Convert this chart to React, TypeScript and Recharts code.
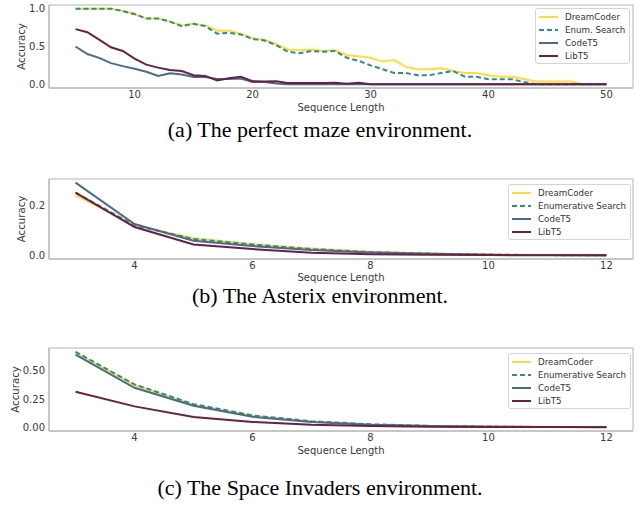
import { LineChart, Line, XAxis, YAxis, ReferenceArea, Legend, Label } from "recharts";

// perfect maze
const mazeLengths = [5, 6, 7, 8, 9, 10, 11, 12, 13, 14, 15, 16, 17, 18, 19, 20, 21, 22, 23, 24, 25, 26, 27, 28, 29, 30, 31, 32, 33, 34, 35, 36, 37, 38, 39, 40, 41, 42, 43, 44, 45, 46, 47, 48, 49, 50];
const mazeDreamCoder = [1.0, 1.0, 1.0, 1.0, 0.97, 0.93, 0.87, 0.87, 0.83, 0.78, 0.8, 0.78, 0.71, 0.71, 0.67, 0.61, 0.59, 0.53, 0.46, 0.45, 0.46, 0.44, 0.45, 0.385, 0.37, 0.35, 0.3, 0.32, 0.23, 0.2, 0.2, 0.21, 0.175, 0.15, 0.15, 0.12, 0.1, 0.1, 0.07, 0.035, 0.035, 0.035, 0.035, 0, 0, 0];
const mazeEnum = [1.0, 1.0, 1.0, 1.0, 0.97, 0.93, 0.87, 0.87, 0.83, 0.77, 0.8, 0.77, 0.67, 0.68, 0.66, 0.6, 0.58, 0.52, 0.43, 0.41, 0.44, 0.43, 0.44, 0.35, 0.31, 0.25, 0.2, 0.15, 0.15, 0.12, 0.12, 0.15, 0.175, 0.1, 0.1, 0.065, 0.065, 0.065, 0.03, 0, 0, 0, 0, 0, 0, 0];
const mazeCodeT5 = [0.5, 0.4, 0.35, 0.28, 0.24, 0.205, 0.165, 0.11, 0.145, 0.13, 0.095, 0.095, 0.07, 0.07, 0.075, 0.03, 0.03, 0.01, 0, 0, 0, 0, 0, 0, 0, 0, 0, 0, 0, 0, 0, 0, 0, 0, 0, 0, 0, 0, 0, 0, 0, 0, 0, 0, 0, 0];
const mazeLibT5 = [0.73, 0.69, 0.59, 0.49, 0.44, 0.34, 0.26, 0.22, 0.19, 0.175, 0.12, 0.11, 0.05, 0.08, 0.1, 0.04, 0.035, 0.04, 0.015, 0.015, 0.015, 0.015, 0.02, 0.005, 0.02, 0, 0, 0, 0, 0, 0, 0, 0, 0, 0, 0, 0, 0, 0, 0, 0, 0, 0, 0, 0, 0];

// asterix
const atariLengths = [3, 4, 5, 6, 7, 8, 9, 10, 11, 12];
const asterixDreamCoder = [0.24, 0.12, 0.068, 0.045, 0.027, 0.014, 0.007, 0.003, 0.001, 0.0005];
const asterixEnum = [0.25, 0.12, 0.065, 0.043, 0.025, 0.013, 0.007, 0.003, 0.001, 0.0005];
const asterixCodeT5 = [0.29, 0.125, 0.058, 0.037, 0.021, 0.011, 0.006, 0.002, 0.001, 0.0003];
const asterixLibT5 = [0.25, 0.113, 0.043, 0.025, 0.01, 0.004, 0.002, 0.001, 0.0005, 0.0002];

// space invaders
const invadersDreamCoder = [0.66, 0.375, 0.2, 0.1, 0.05, 0.025, 0.012, 0.006, 0.002, 0.001];
const invadersEnum = [0.67, 0.38, 0.205, 0.105, 0.053, 0.026, 0.012, 0.006, 0.002, 0.001];
const invadersCodeT5 = [0.645, 0.35, 0.19, 0.093, 0.047, 0.022, 0.01, 0.005, 0.002, 0.001];
const invadersLibT5 = [0.315, 0.185, 0.09, 0.047, 0.022, 0.01, 0.005, 0.002, 0.001, 0];

const captions = [
  "(a) The perfect maze environment.",
  "(b) The Asterix environment.",
  "(c) The Space Invaders environment.",
];

const COLORS = { dc: "#fbdd3f", en: "#2a8f89", ct: "#4a6b8a", lt: "#6a1f45" };
const TICK = { fontFamily: "DejaVu Sans", fontSize: 10, fill: "#3a3a3a" };
const FRAME = "#b4b4b4";

type Row = { len: number; dc: number; en: number; ct: number; lt: number };

function buildRows(lens: number[], dc: number[], en: number[], ct: number[], lt: number[]): Row[] {
  return lens.map((len, i) => ({ len, dc: dc[i], en: en[i], ct: ct[i], lt: lt[i] }));
}

function YTitle(props: any) {
  const vb = props.viewBox;
  const cx = props.cx;
  const cy = vb.y + vb.height / 2;
  return (
    <text x={cx} y={cy} transform={`rotate(-90, ${cx}, ${cy})`} textAnchor="middle" dominantBaseline="central"
      fontFamily="DejaVu Sans" fontSize={10.2} fill="#3a3a3a">Accuracy</text>
  );
}

function XTitle(props: any) {
  const vb = props.viewBox;
  return (
    <text x={vb.x + vb.width / 2} y={vb.y + props.dy} textAnchor="middle" dominantBaseline="central"
      fontFamily="DejaVu Sans" fontSize={10} fill="#3a3a3a">Sequence Length</text>
  );
}

function LegendBox({ enumName }: { enumName: string }) {
  const items = [
    { name: "DreamCoder", color: COLORS.dc, dash: undefined },
    { name: enumName, color: COLORS.en, dash: "5 3" },
    { name: "CodeT5", color: COLORS.ct, dash: undefined },
    { name: "LibT5", color: COLORS.lt, dash: undefined },
  ];
  return (
    <div style={{ background: "rgba(255,255,255,0.85)", border: "1px solid #d4d4d4", borderRadius: 3, padding: "1px 4px 1px 3px" }}>
      {items.map((it) => (
        <div key={it.name} style={{ display: "flex", alignItems: "center", height: 13 }}>
          <svg width={19} height={6} style={{ marginRight: 7 }}>
            <line x1={0} y1={3} x2={19} y2={3} stroke={it.color} strokeWidth={2} strokeDasharray={it.dash} />
          </svg>
          <span style={{ fontFamily: "DejaVu Sans", fontSize: 8.7, color: "#333", whiteSpace: "nowrap" }}>{it.name}</span>
        </div>
      ))}
    </div>
  );
}

type PanelProps = {
  top: number;
  height: number;
  rows: Row[];
  xDomain: [number, number];
  xTicks: number[];
  yDomain: [number, number];
  yTicks: number[];
  yDigits: number;
  yTitleX: number;
  xTitleDy: number;
  enumName: string;
  legendLeft: number;
  legendTop: number;
};

function Panel(p: PanelProps) {
  return (
    <div style={{ position: "absolute", left: 0, top: p.top }}>
      <LineChart width={640} height={p.height} data={p.rows} margin={{ top: 5, right: 7, left: 0, bottom: 0 }}>
        <ReferenceArea x1={p.xDomain[0]} x2={p.xDomain[1]} y1={p.yDomain[0]} y2={p.yDomain[1]}
          fill="none" stroke={FRAME} strokeWidth={1} ifOverflow="visible" />
        <XAxis dataKey="len" type="number" domain={p.xDomain} ticks={p.xTicks} allowDataOverflow
          height={37} tickLine={false} tickSize={0} tickMargin={3} axisLine={{ stroke: FRAME }} tick={TICK}>
          <Label content={<XTitle dy={p.xTitleDy} />} />
        </XAxis>
        <YAxis type="number" domain={p.yDomain} ticks={p.yTicks} allowDataOverflow width={49}
          tickLine={false} tickSize={2} tickMargin={2} axisLine={{ stroke: FRAME }} tick={TICK}
          tickFormatter={(v: number) => v.toFixed(p.yDigits)}>
          <Label content={<YTitle cx={p.yTitleX} />} />
        </YAxis>
        <Line dataKey="dc" name="DreamCoder" stroke={COLORS.dc} strokeWidth={2} dot={false} isAnimationActive={false} />
        <Line dataKey="en" name={p.enumName} stroke={COLORS.en} strokeWidth={2} strokeDasharray="5 3" dot={false} isAnimationActive={false} />
        <Line dataKey="ct" name="CodeT5" stroke={COLORS.ct} strokeWidth={2} dot={false} isAnimationActive={false} />
        <Line dataKey="lt" name="LibT5" stroke={COLORS.lt} strokeWidth={2} dot={false} isAnimationActive={false} />
        <Legend verticalAlign="middle" layout="horizontal" content={() => <LegendBox enumName={p.enumName} />}
          wrapperStyle={{ position: "absolute", left: p.legendLeft, top: p.legendTop, width: "auto", height: "auto" }} />
      </LineChart>
    </div>
  );
}

function Caption({ text, center }: { text: string; center: number }) {
  return (
    <div style={{ position: "absolute", left: 0, top: center - 9, width: 640, height: 18, textAlign: "center",
      fontFamily: "Liberation Serif", fontSize: 22, lineHeight: "18px", color: "#000" }}>{text}</div>
  );
}

export default function App() {
  return (
    <div style={{ position: "absolute", left: 0, top: 0, width: 640, height: 508, background: "#fff", overflow: "hidden" }}>
      <Panel top={0} height={125} rows={buildRows(mazeLengths, mazeDreamCoder, mazeEnum, mazeCodeT5, mazeLibT5)}
        xDomain={[2.75, 52.25]} xTicks={[10, 20, 30, 40, 50]} yDomain={[-0.05, 1.05]} yTicks={[0, 0.5, 1]} yDigits={1}
        yTitleX={21} xTitleDy={19.5} enumName="Enum. Search" legendLeft={535} legendTop={8} />
      <Caption text={captions[0]} center={130} />
      <Panel top={174} height={122} rows={buildRows(atariLengths, asterixDreamCoder, asterixEnum, asterixCodeT5, asterixLibT5)}
        xDomain={[2.55, 12.45]} xTicks={[4, 6, 8, 10, 12]} yDomain={[-0.0145, 0.3045]} yTicks={[0, 0.2]} yDigits={1}
        yTitleX={21} xTitleDy={18.5} enumName="Enumerative Search" legendLeft={508} legendTop={10} />
      <Caption text={captions[1]} center={295.5} />
      <Panel top={343} height={125} rows={buildRows(atariLengths, invadersDreamCoder, invadersEnum, invadersCodeT5, invadersLibT5)}
        xDomain={[2.55, 12.45]} xTicks={[4, 6, 8, 10, 12]} yDomain={[-0.0335, 0.7035]} yTicks={[0, 0.25, 0.5]} yDigits={2}
        yTitleX={15} xTitleDy={19.5} enumName="Enumerative Search" legendLeft={508} legendTop={10} />
      <Caption text={captions[2]} center={488} />
    </div>
  );
}
